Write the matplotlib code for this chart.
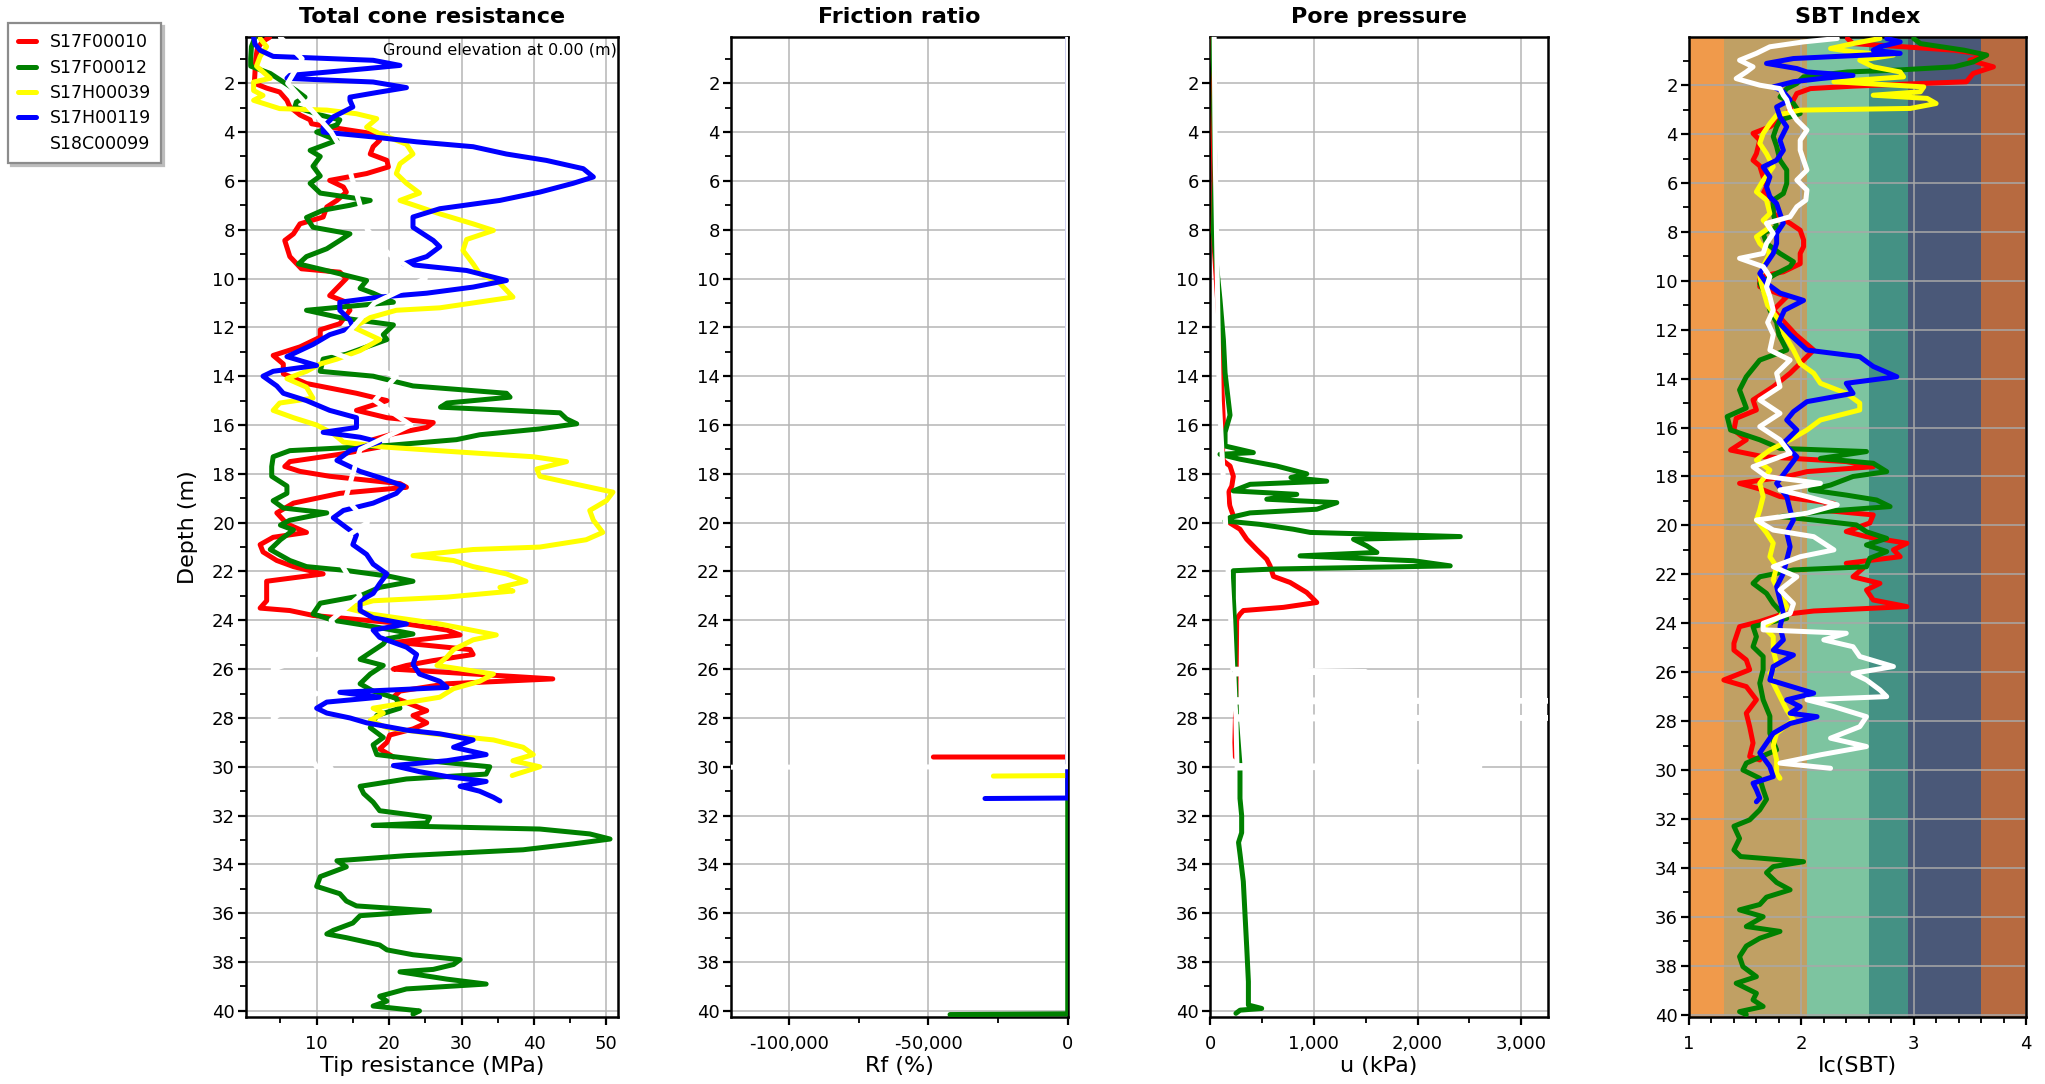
import matplotlib
matplotlib.use("Agg")
import matplotlib.pyplot as plt
from matplotlib.ticker import MultipleLocator, FuncFormatter

SOUNDINGS = ["S17F00010", "S17F00012", "S17H00039", "S17H00119", "S18C00099"]
COLORS = ["#ff0000", "#008000", "#ffff00", "#0000ff", "#ffffff"]

# ---- Total cone resistance, (depth m, qt MPa)
QT_S17F00010 = [(0.12, 3.5), (0.3, 2.5), (0.6, 1.8), (1.0, 1.6), (1.5, 1.5), (2.0, 1.4), (2.2, 3.1),
                (2.36, 4.9), (2.7, 5.9), (2.97, 6.3), (3.3, 7.7), (3.5, 9.1), (3.66, 9.3), (3.86, 13.2),
                (4.07, 17.8), (4.34, 18.7), (4.6, 17.8), (4.9, 17.4), (5.16, 19.7), (5.43, 19.9),
                (5.7, 16.9), (5.98, 11.8), (6.25, 13.7), (6.46, 14.1), (6.8, 12.8), (7.07, 11.4),
                (7.48, 10.9), (7.76, 7.7), (8.17, 6.8), (8.44, 5.6), (9.1, 6.3), (9.6, 7.9), (9.74, 13.2),
                (10.0, 14.1), (10.7, 11.8), (10.97, 14.1), (11.3, 14.6), (11.85, 13.2), (12.1, 10.5),
                (12.4, 10.5), (12.8, 7.7), (13.15, 4.0), (13.5, 5.4), (13.9, 5.4), (14.3, 8.6),
                (14.7, 15.5), (15.0, 19.7), (15.4, 15.5), (15.7, 19.7), (15.9, 26.1), (16.1, 25.2),
                (16.36, 20.6), (16.6, 17.8), (16.9, 18.7), (17.2, 13.2), (17.5, 6.3), (17.7, 5.6),
                (17.9, 7.7), (18.1, 11.8), (18.4, 21.5), (18.55, 22.4), (18.8, 13.2), (19.2, 6.8),
                (19.6, 4.5), (20.05, 5.9), (20.4, 8.6), (20.6, 4.0), (20.9, 2.2), (21.2, 2.6),
                (21.55, 4.5), (21.8, 6.8), (22.1, 10.9), (22.4, 3.1), (22.8, 3.1), (23.2, 3.1),
                (23.5, 2.2), (23.6, 6.3), (23.8, 9.5), (23.94, 14.6), (24.15, 22.4), (24.4, 28.0),
                (24.6, 29.8), (24.9, 21.0), (25.2, 31.2), (25.4, 31.6), (25.65, 26.1), (25.85, 22.4),
                (26.0, 20.6), (26.2, 31.6), (26.4, 42.6), (26.6, 28.0), (26.9, 21.5), (27.15, 20.6),
                (27.7, 25.2), (27.9, 23.3), (28.2, 25.2), (28.45, 23.3), (28.7, 20.1), (29.0, 19.7),
                (29.27, 18.7), (29.6, 20.6)]
QT_S17F00012 = [(0.12, 1.5), (0.5, 1.0), (1.0, 0.9), (1.3, 0.9), (1.6, 3.6), (1.95, 5.4), (2.3, 7.2),
                (2.57, 8.4), (2.77, 7.2), (2.97, 7.0), (3.3, 10.5), (3.5, 13.2), (3.7, 12.8), (4.0, 10.0),
                (4.34, 12.8), (4.75, 9.1), (5.0, 10.5), (5.4, 9.5), (5.8, 10.5), (6.1, 9.1), (6.5, 10.5),
                (6.8, 17.4), (7.0, 14.6), (7.2, 10.9), (7.5, 8.6), (7.9, 9.5), (8.17, 14.6), (8.44, 13.2),
                (8.78, 11.4), (9.1, 8.6), (9.4, 7.5), (9.74, 12.3), (10.08, 16.9), (10.4, 16.0),
                (10.6, 17.8), (10.97, 20.6), (11.3, 8.6), (11.6, 13.2), (11.9, 20.6), (12.3, 19.2),
                (12.5, 19.7), (13.1, 14.1), (13.3, 10.9), (13.8, 10.5), (14.0, 17.8), (14.4, 23.3),
                (14.7, 36.2), (14.86, 36.7), (15.1, 28.0), (15.27, 27.1), (15.5, 43.6), (15.75, 44.5),
                (15.95, 45.9), (16.16, 40.8), (16.4, 32.5), (16.6, 29.3), (16.84, 19.7), (17.05, 6.3),
                (17.3, 4.0), (17.7, 3.8), (18.1, 3.8), (18.5, 5.9), (18.8, 5.9), (19.1, 4.0), (19.4, 5.4),
                (19.6, 11.4), (19.9, 6.3), (20.1, 5.0), (20.3, 6.8), (20.7, 5.0), (21.1, 3.6),
                (21.55, 6.3), (21.8, 8.6), (21.96, 14.1), (22.2, 20.1), (22.4, 23.3), (22.65, 18.7),
                (23.0, 16.0), (23.3, 10.5), (23.74, 9.5), (24.0, 12.3), (24.3, 18.7), (24.56, 23.3),
                (24.76, 19.7), (24.97, 19.2), (25.6, 16.0), (25.85, 19.2), (26.2, 17.4), (26.6, 16.0),
                (26.9, 17.8), (27.2, 21.0), (27.6, 21.5), (27.9, 18.3), (28.4, 17.4), (28.8, 19.2),
                (29.1, 17.8), (29.5, 18.3), (29.75, 25.2), (30.0, 33.9), (30.3, 33.4), (30.5, 22.4),
                (30.8, 16.0), (31.1, 16.5), (31.45, 17.8), (31.8, 18.7), (32.07, 25.6), (32.3, 25.2),
                (32.4, 17.8), (32.55, 40.8), (32.75, 47.7), (32.96, 50.5), (33.16, 45.4), (33.4, 38.5),
                (33.64, 22.4), (33.85, 12.8), (34.1, 14.1), (34.5, 10.5), (34.9, 10.0), (35.2, 13.2),
                (35.5, 14.1), (35.7, 15.5), (35.9, 25.6), (36.1, 16.0), (36.4, 15.0), (36.7, 12.3),
                (36.85, 11.4), (37.0, 14.1), (37.3, 18.7), (37.5, 19.7), (37.7, 23.3), (37.9, 29.8),
                (38.1, 28.9), (38.3, 26.1), (38.4, 21.5), (38.7, 28.0), (38.9, 33.4), (39.1, 22.4),
                (39.4, 18.7), (39.6, 19.7), (39.8, 17.8), (40.0, 24.2), (40.13, 23.3)]
QT_S17H00039 = [(0.17, 2.2), (0.5, 3.1), (0.9, 2.2), (1.3, 1.7), (1.8, 3.6), (1.95, 1.3), (2.3, 1.3),
                (2.5, 2.6), (2.7, 1.3), (3.04, 4.9), (3.1, 11.4), (3.25, 15.5), (3.45, 18.3), (3.8, 16.9),
                (4.07, 18.7), (4.5, 22.4), (4.9, 23.3), (5.3, 21.5), (5.7, 21.0), (6.1, 22.4), (6.5, 24.2),
                (6.8, 21.5), (7.35, 27.0), (7.76, 31.6), (8.03, 34.4), (8.4, 30.7), (8.85, 30.2),
                (9.4, 31.6), (9.8, 32.5), (10.2, 35.3), (10.76, 37.1), (11.2, 27.0), (11.3, 21.0),
                (11.6, 17.4), (12.0, 15.1), (12.5, 18.7), (12.95, 16.0), (13.3, 12.8), (13.5, 10.5),
                (13.8, 8.6), (14.1, 5.9), (14.45, 8.6), (14.9, 9.5), (15.1, 4.9), (15.4, 4.0), (15.7, 6.8),
                (16.0, 10.0), (16.36, 12.3), (16.7, 13.7), (16.9, 19.2), (17.1, 29.3), (17.3, 39.9),
                (17.5, 44.5), (17.8, 40.4), (18.1, 40.8), (18.4, 45.4), (18.75, 50.9), (19.1, 50.0),
                (19.5, 47.7), (19.9, 48.2), (20.4, 49.5), (20.7, 47.2), (21.0, 40.8), (21.1, 31.6),
                (21.35, 23.3), (21.55, 28.9), (21.8, 31.6), (22.1, 36.2), (22.4, 38.9), (22.65, 35.3),
                (22.8, 37.1), (23.05, 28.0), (23.2, 17.8), (23.5, 14.1), (23.74, 17.4), (24.15, 27.0),
                (24.6, 34.8), (24.8, 31.6), (25.2, 28.9), (25.5, 28.0), (25.85, 26.6), (26.2, 34.4),
                (26.5, 32.5), (26.8, 28.9), (27.15, 27.0), (27.6, 17.8), (27.8, 19.2), (28.1, 17.4),
                (28.4, 19.7), (28.65, 26.1), (28.9, 34.4), (29.2, 38.5), (29.5, 39.9), (29.75, 37.1),
                (30.0, 40.8), (30.3, 37.6), (30.36, 37.0)]
QT_S17H00119 = [(0.12, 1.3), (0.4, 1.5), (0.65, 2.2), (0.9, 4.0), (1.06, 17.8), (1.27, 21.5), (1.4, 16.9),
                (1.68, 6.3), (1.8, 5.9), (1.95, 17.8), (2.18, 22.4), (2.36, 18.7), (2.57, 14.6), (2.7, 14.6),
                (2.97, 15.0), (3.38, 12.3), (3.8, 10.9), (4.0, 10.9), (4.2, 17.8), (4.4, 23.8), (4.6, 31.6),
                (4.9, 36.2), (5.16, 41.7), (5.5, 46.8), (5.84, 48.2), (6.1, 45.4), (6.46, 40.8),
                (6.8, 35.3), (7.14, 27.0), (7.48, 23.3), (7.9, 23.3), (8.17, 24.7), (8.44, 26.1),
                (8.7, 27.0), (9.1, 25.2), (9.4, 22.0), (9.67, 30.7), (10.08, 36.2), (10.35, 31.6),
                (10.6, 25.2), (10.76, 18.7), (10.97, 13.2), (11.3, 13.2), (11.7, 14.6), (12.0, 15.0),
                (12.3, 11.8), (12.7, 9.5), (12.95, 7.7), (13.2, 5.9), (13.56, 10.0), (13.8, 4.0),
                (14.0, 2.6), (14.4, 4.5), (14.7, 5.4), (15.0, 8.6), (15.4, 11.8), (15.7, 15.5),
                (16.1, 15.5), (16.3, 10.9), (16.5, 16.0), (16.7, 18.7), (17.05, 14.6), (17.45, 12.8),
                (17.9, 16.0), (18.2, 19.2), (18.5, 22.0), (18.8, 21.0), (19.2, 17.8), (19.5, 13.7),
                (19.8, 12.3), (20.2, 14.1), (20.5, 15.5), (20.9, 15.0), (21.3, 16.9), (21.7, 17.8),
                (22.1, 19.7), (22.5, 18.7), (22.9, 17.8), (23.2, 16.0), (23.6, 16.0), (23.9, 17.8),
                (24.15, 22.4), (24.4, 17.8), (24.7, 18.7), (25.1, 22.4), (25.4, 23.8), (25.8, 23.3),
                (26.2, 24.2), (26.5, 27.0), (26.75, 28.0), (26.95, 13.2), (27.15, 18.7), (27.35, 11.4),
                (27.6, 10.0), (27.8, 11.4), (28.0, 14.6), (28.2, 16.9), (28.5, 22.4), (28.65, 27.0),
                (28.9, 31.6), (29.2, 28.9), (29.5, 33.4), (29.75, 28.0), (29.95, 20.6), (30.2, 24.2),
                (30.4, 28.0), (30.6, 33.4), (30.8, 29.8), (31.0, 32.5), (31.25, 34.4), (31.4, 35.3)]
QT_S18C00099 = [(0.12, 5.0), (1.0, 8.0), (2.0, 6.0), (3.0, 9.0), (4.0, 12.0), (5.0, 14.0), (6.0, 15.0),
                (8.0, 17.0), (9.0, 20.0), (10.0, 25.0), (11.0, 18.0), (12.0, 15.0), (13.0, 12.0),
                (14.0, 21.0), (15.0, 18.0), (16.0, 23.0), (17.0, 16.0), (18.0, 15.0), (19.0, 14.0),
                (20.0, 17.0), (21.0, 12.0), (22.0, 14.0), (23.0, 16.0), (24.0, 12.0), (25.0, 14.0),
                (26.0, 4.0), (27.0, 10.0), (28.0, 4.0), (29.0, 8.0), (30.0, 10.0), (30.05, 12.0)]

# ---- Friction ratio, (depth m, Rf %)
RF_S17F00010 = [(0.12, 2.0), (29.6, 2.5), (29.6, -48240)]
RF_S17F00012 = [(0.12, 2.0), (40.12, 2.0), (40.15, -42250)]
RF_S17H00039 = [(0.17, 2.0), (30.36, 2.0), (30.38, -26700)]
RF_S17H00119 = [(0.12, 2.0), (31.28, 2.0), (31.3, -29700)]
RF_S18C00099 = [(0.12, 2.0), (30.0, 2.0), (30.02, -140000)]

# ---- Pore pressure, (depth m, u kPa)
U_S17F00010 = [(0.12, 30), (2.0, 35), (4.0, 30), (6.0, 40), (8.0, 30), (10.0, 60), (12.0, 90),
               (14.0, 110), (16.0, 130), (17.2, 120), (17.47, 129), (17.68, 193), (18.1, 225),
               (18.5, 210), (18.77, 177), (19.3, 190), (19.72, 225), (19.93, 161), (20.27, 289),
               (20.68, 354), (21.1, 450), (21.5, 547), (21.77, 579), (22.2, 611), (22.45, 772),
               (22.86, 932), (23.27, 1029), (23.47, 707), (23.6, 322), (23.74, 290), (23.95, 257),
               (25.0, 255), (26.9, 250), (28.0, 245), (29.0, 240), (29.6, 245)]
U_S17F00012 = [(0.12, 32), (1.0, 30), (2.0, 40), (3.0, 35), (4.0, 40), (5.0, 45), (6.0, 48), (6.77, 40),
               (8.1, 32), (9.5, 64), (10.86, 96), (12.5, 129), (13.86, 145), (15.6, 193), (16.3, 145),
               (16.86, 145), (17.13, 418), (17.2, 96), (17.4, 289), (17.68, 643), (18.0, 932),
               (18.15, 780), (18.3, 1125), (18.43, 386), (18.7, 225), (18.84, 836), (19.04, 547),
               (19.18, 1222), (19.45, 1029), (19.6, 386), (19.79, 193), (19.93, 145), (20.07, 482),
               (20.27, 804), (20.4, 965), (20.57, 2412), (20.68, 1383), (20.95, 1511), (21.22, 1608),
               (21.36, 868), (21.56, 1961), (21.77, 2315), (21.9, 611), (21.97, 225), (23.1, 225),
               (24.5, 241), (25.85, 241), (27.2, 250), (28.17, 257), (29.95, 289), (31.3, 289),
               (32.0, 305), (32.7, 305), (33.1, 275), (33.6, 290), (34.7, 321), (36.1, 338),
               (37.4, 354), (38.8, 370), (39.76, 370), (39.9, 498), (39.97, 290), (40.1, 250)]
U_S18C00099 = [(0.12, 40), (5.0, 50), (10.0, 70), (15.0, 90), (20.0, 150), (24.0, 200), (26.0, 220),
               (26.1, 1500), (26.2, 230), (27.25, 240), (27.3, 3500), (27.35, 240), (27.95, 250),
               (28.0, 3300), (28.05, 250), (29.95, 260), (30.0, 2600), (30.05, 260)]

# ---- SBT index, (depth m, Ic)
IC_S17F00010 = [(0.09, 2.41), (0.3, 2.46), (0.43, 2.91), (0.57, 3.36), (0.77, 3.65), (0.98, 3.5),
                (1.25, 3.71), (1.52, 3.53), (1.86, 3.47), (2.04, 2.46), (2.14, 2.08), (2.34, 1.96),
                (2.6, 1.93), (3.0, 1.9), (3.3, 1.84), (3.7, 1.72), (3.97, 1.57), (4.25, 1.63), (4.8, 1.6),
                (5.07, 1.57), (5.3, 1.63), (5.75, 1.66), (6.15, 1.69), (6.43, 1.66), (6.7, 1.75),
                (7.25, 1.75), (7.65, 1.9), (7.93, 1.99), (8.33, 2.02), (8.6, 2.02), (8.88, 1.99),
                (9.3, 1.99), (9.63, 1.84), (9.83, 1.63), (10.24, 1.63), (10.65, 1.87), (11.2, 1.75),
                (11.7, 1.85), (12.2, 1.95), (12.83, 2.11), (13.24, 2.02), (13.78, 1.9), (14.33, 1.75),
                (14.87, 1.57), (15.28, 1.6), (15.62, 1.42), (16.1, 1.4), (16.5, 1.51), (16.92, 1.37),
                (17.19, 1.66), (17.39, 2.4), (17.6, 2.64), (17.8, 2.05), (18.0, 1.87), (18.28, 1.45),
                (18.55, 1.66), (18.82, 1.81), (19.1, 2.29), (19.37, 2.17), (19.57, 2.64), (19.9, 2.61),
                (20.25, 2.4), (20.46, 2.58), (20.73, 2.94), (21.0, 2.82), (21.28, 2.88), (21.55, 2.4),
                (21.75, 2.55), (22.1, 2.46), (22.37, 2.7), (22.64, 2.58), (23.05, 2.64), (23.32, 2.94),
                (23.5, 2.11), (23.66, 1.81), (23.93, 1.63), (24.14, 1.45), (24.41, 1.43), (24.82, 1.4),
                (25.1, 1.4), (25.5, 1.51), (25.9, 1.54), (26.32, 1.31), (26.59, 1.51), (27.13, 1.6),
                (27.68, 1.51), (28.23, 1.54), (28.9, 1.57), (29.45, 1.54), (29.59, 1.63)]
IC_S17F00012 = [(0.09, 3.0), (0.3, 3.06), (0.57, 3.45), (0.77, 3.65), (1.05, 3.53), (1.25, 3.36),
                (1.39, 2.82), (1.46, 2.41), (1.66, 2.02), (1.93, 1.96), (2.14, 1.87), (2.48, 1.81),
                (2.75, 1.93), (3.16, 1.99), (3.43, 1.81), (3.7, 1.78), (4.1, 1.75), (4.5, 1.78),
                (5.07, 1.81), (5.47, 1.87), (6.02, 1.87), (6.43, 1.84), (6.7, 1.75), (7.25, 1.75),
                (7.8, 1.78), (8.06, 1.66), (8.47, 1.69), (8.88, 1.81), (9.22, 1.93), (9.42, 1.9),
                (9.7, 1.78), (10.1, 1.63), (10.38, 1.66), (10.65, 1.69), (11.2, 1.72), (11.7, 1.78),
                (12.2, 1.8), (12.83, 1.87), (13.24, 1.63), (13.92, 1.51), (14.46, 1.45), (15.2, 1.51),
                (15.55, 1.34), (16.1, 1.37), (16.5, 1.63), (16.85, 1.81), (16.98, 2.58), (17.26, 2.17),
                (17.46, 2.64), (17.8, 2.76), (18.0, 2.46), (18.35, 2.26), (18.55, 2.08), (18.76, 2.4),
                (18.96, 2.67), (19.23, 2.79), (19.44, 2.17), (19.64, 1.81), (19.78, 2.11), (19.98, 2.49),
                (20.26, 2.58), (20.53, 2.76), (20.8, 2.58), (21.07, 2.76), (21.34, 2.61), (21.69, 2.58),
                (21.82, 1.93), (22.1, 1.63), (22.37, 1.57), (22.78, 1.69), (23.2, 1.75), (23.5, 1.81),
                (23.8, 1.87), (24.14, 1.57), (24.55, 1.6), (24.96, 1.57), (25.36, 1.66), (25.9, 1.66),
                (26.45, 1.63), (27.13, 1.66), (27.8, 1.72), (28.5, 1.72), (29.18, 1.78), (29.72, 1.51),
                (30.0, 1.48), (30.34, 1.63), (30.8, 1.66), (31.2, 1.69), (31.63, 1.63), (32.04, 1.54),
                (32.3, 1.4), (32.8, 1.45), (33.27, 1.4), (33.54, 1.46), (33.75, 2.02), (33.95, 1.75),
                (34.2, 1.69), (34.6, 1.78), (34.9, 1.9), (35.2, 1.69), (35.5, 1.63), (35.72, 1.45),
                (36.0, 1.66), (36.4, 1.51), (36.6, 1.81), (36.88, 1.63), (37.2, 1.51), (37.63, 1.45),
                (38.04, 1.48), (38.45, 1.6), (38.72, 1.42), (39.13, 1.6), (39.4, 1.57), (39.67, 1.66),
                (39.88, 1.45), (40.0, 1.51)]
IC_S17H00039 = [(0.09, 2.7), (0.3, 2.46), (0.5, 2.26), (0.64, 2.46), (0.77, 2.82), (0.98, 2.52),
                (1.25, 2.64), (1.46, 2.88), (1.66, 2.91), (1.86, 2.29), (2.07, 3.09), (2.27, 3.06),
                (2.41, 2.64), (2.54, 3.12), (2.75, 3.2), (2.95, 2.97), (3.02, 1.99), (3.23, 1.78),
                (3.57, 1.72), (3.98, 1.66), (4.38, 1.63), (4.8, 1.69), (5.33, 1.75), (5.9, 1.66),
                (6.36, 1.6), (6.7, 1.69), (7.25, 1.72), (7.52, 1.66), (7.8, 1.72), (8.2, 1.6), (8.47, 1.63),
                (8.88, 1.72), (9.42, 1.66), (9.83, 1.63), (10.38, 1.66), (11.0, 1.7), (11.6, 1.8),
                (12.2, 1.85), (12.83, 1.93), (13.38, 1.99), (13.78, 2.11), (14.19, 2.17), (14.6, 2.4),
                (15.0, 2.52), (15.28, 2.52), (15.69, 2.17), (16.1, 2.05), (16.5, 1.9), (16.92, 1.72),
                (17.33, 1.6), (17.74, 1.72), (18.28, 1.63), (18.82, 1.66), (19.37, 1.63), (19.78, 1.6),
                (20.3, 1.69), (20.73, 1.75), (21.28, 1.72), (21.69, 1.78), (22.23, 1.75), (22.78, 1.81),
                (23.32, 1.87), (23.73, 1.81), (24.14, 1.66), (24.55, 1.75), (25.1, 1.75), (25.64, 1.78),
                (26.05, 1.72), (26.45, 1.75), (27.0, 1.81), (27.55, 1.87), (27.95, 1.93), (28.5, 1.78),
                (29.0, 1.75), (29.59, 1.78), (30.13, 1.78), (30.34, 1.81)]
IC_S17H00119 = [(0.09, 2.76), (0.23, 2.88), (0.43, 2.7), (0.57, 2.64), (0.7, 2.88), (0.91, 1.93),
                (1.11, 1.69), (1.32, 1.96), (1.46, 2.05), (1.6, 2.46), (1.73, 2.17), (1.86, 1.93),
                (2.07, 1.75), (2.27, 1.84), (2.6, 1.9), (2.89, 1.78), (3.3, 1.81), (3.7, 1.87),
                (4.25, 1.81), (4.66, 1.84), (5.07, 1.78), (5.34, 1.66), (5.75, 1.72), (6.15, 1.69),
                (6.56, 1.72), (6.84, 1.78), (7.25, 1.81), (7.65, 1.84), (8.06, 1.78), (8.47, 1.78),
                (8.88, 1.75), (9.29, 1.69), (9.7, 1.63), (10.1, 1.69), (10.5, 1.81), (10.8, 2.02),
                (11.2, 1.85), (11.7, 1.8), (12.2, 1.9), (12.83, 2.05), (13.1, 2.52), (13.5, 2.64),
                (13.92, 2.85), (14.19, 2.4), (14.6, 2.46), (14.94, 2.05), (15.35, 1.93), (15.69, 1.87),
                (16.1, 1.96), (16.64, 1.84), (17.19, 1.96), (17.74, 1.87), (18.28, 1.78), (18.82, 1.87),
                (19.37, 1.9), (19.78, 1.93), (20.3, 1.87), (20.87, 1.9), (21.41, 1.87), (21.96, 1.84),
                (22.5, 1.78), (23.05, 1.81), (23.6, 1.84), (24.14, 1.81), (24.68, 1.84), (25.1, 1.75),
                (25.3, 1.93), (25.77, 1.75), (26.32, 1.72), (26.86, 2.11), (27.13, 1.87), (27.41, 1.99),
                (27.68, 1.9), (27.82, 2.14), (28.1, 1.9), (28.5, 1.75), (28.9, 1.69), (29.3, 1.63),
                (29.86, 1.72), (30.27, 1.75), (30.54, 1.57), (30.81, 1.6), (31.15, 1.63), (31.3, 1.6)]
IC_S18C00099 = [(0.09, 2.32), (0.23, 2.02), (0.43, 1.72), (0.7, 1.6), (0.98, 1.45), (1.25, 1.57),
                (1.46, 1.51), (1.73, 1.42), (2.0, 1.63), (2.14, 1.81), (2.41, 1.84), (2.6, 1.87),
                (3.02, 1.9), (3.43, 1.96), (3.84, 2.05), (4.25, 1.99), (4.66, 1.99), (5.07, 2.02),
                (5.47, 2.05), (5.88, 1.96), (6.29, 2.05), (6.7, 2.04), (6.97, 1.96), (7.38, 1.9),
                (7.65, 1.69), (8.06, 1.75), (8.47, 1.69), (8.88, 1.66), (9.08, 1.45), (9.42, 1.66),
                (9.83, 1.72), (10.24, 1.69), (10.65, 1.72), (11.2, 1.75), (11.7, 1.7), (12.2, 1.75),
                (12.83, 1.72), (13.24, 1.9), (13.78, 1.78), (14.33, 1.81), (14.87, 1.63), (15.42, 1.81),
                (15.96, 1.63), (16.5, 1.81), (17.05, 1.9), (17.6, 1.57), (18.0, 1.69), (18.28, 2.17),
                (18.55, 1.81), (18.82, 2.05), (19.16, 2.32), (19.5, 2.05), (19.78, 1.6), (20.19, 1.75),
                (20.46, 2.11), (21.0, 2.29), (21.28, 1.99), (21.69, 1.75), (22.1, 1.96), (22.64, 1.81),
                (23.2, 1.93), (23.6, 1.9), (24.0, 1.66), (24.27, 1.66), (24.41, 2.4), (24.68, 2.2),
                (24.96, 2.46), (25.36, 2.52), (25.77, 2.82), (26.05, 2.46), (26.32, 2.58), (26.73, 2.7),
                (27.0, 2.76), (27.13, 2.05), (27.41, 2.29), (27.82, 2.58), (28.23, 2.52), (28.7, 2.26),
                (29.04, 2.58), (29.38, 2.17), (29.72, 1.81), (29.93, 2.26)]

# SBT zone boundaries and fill colours
IC_BOUNDS = [1.0, 1.31, 2.05, 2.6, 2.95, 3.6, 4.0]
ZONE_COLORS = ["#f09a4b", "#c0a064", "#7dc4a0", "#449184", "#4a5878", "#b76a40"]

FIG_W, FIG_H = 2045, 1084


def px_axes(left, top, right, bottom):
    return [left / FIG_W, 1 - bottom / FIG_H, (right - left) / FIG_W, (bottom - top) / FIG_H]


def draw_profiles(ax, profiles):
    for name, color, prof in zip(SOUNDINGS, COLORS, profiles):
        if prof is None:
            continue
        depth, val = zip(*prof)
        ax.plot(val, depth, color=color, lw=3.6, solid_joinstyle="round",
                solid_capstyle="round", label=name, zorder=3)


def style(ax, title, xlabel, ylim):
    ax.set_ylim(*ylim)
    ax.yaxis.set_major_locator(MultipleLocator(2))
    ax.yaxis.set_minor_locator(MultipleLocator(1))
    ax.grid(True, which="major", color="#b5b5b5", lw=1.1)
    ax.set_axisbelow(True)
    for s in ax.spines.values():
        s.set_linewidth(1.8)
        s.set_color("black")
    ax.tick_params(which="major", direction="out", length=6, width=1.6, labelsize=13)
    ax.tick_params(which="minor", direction="out", length=4, width=1.3)
    ax.tick_params(axis="x", which="major", pad=7)
    ax.tick_params(axis="y", which="major", pad=2)
    ax.set_xlabel(xlabel, fontsize=16)
    ax.xaxis.set_label_coords(0.5, -0.040)
    ax.text(0.5, 1.020, title, transform=ax.transAxes, ha="center", va="center",
            fontsize=16, fontweight="bold")


comma = FuncFormatter(lambda v, p: f"{v:,.0f}")
main_ylim = (40.25, 0.106)

fig = plt.figure(figsize=(FIG_W / 100, FIG_H / 100), dpi=100)

# total cone resistance
ax1 = fig.add_axes(px_axes(246, 37, 618, 1017))
draw_profiles(ax1, [QT_S17F00010, QT_S17F00012, QT_S17H00039, QT_S17H00119, QT_S18C00099])
ax1.set_xlim(0.25, 51.6)
ax1.xaxis.set_major_locator(MultipleLocator(10))
ax1.xaxis.set_minor_locator(MultipleLocator(5))
style(ax1, "Total cone resistance", "Tip resistance (MPa)", main_ylim)
ax1.set_ylabel("Depth (m)", fontsize=16)
ax1.yaxis.set_label_coords(-0.129, 0.5)
ax1.text(0.997, 0.987, "Ground elevation at 0.00 (m)", transform=ax1.transAxes,
         ha="right", va="center", fontsize=11.5)

# friction ratio
ax2 = fig.add_axes(px_axes(731, 37, 1068, 1017))
draw_profiles(ax2, [RF_S17F00010, RF_S17F00012, RF_S17H00039, RF_S17H00119, RF_S18C00099])
ax2.set_xlim(-120900, 100)
ax2.xaxis.set_major_locator(MultipleLocator(50000))
ax2.xaxis.set_minor_locator(MultipleLocator(25000))
ax2.xaxis.set_major_formatter(comma)
style(ax2, "Friction ratio", "Rf (%)", main_ylim)

# pore pressure
ax3 = fig.add_axes(px_axes(1210, 37, 1548, 1017))
draw_profiles(ax3, [U_S17F00010, U_S17F00012, None, None, U_S18C00099])
ax3.set_xlim(0, 3257)
ax3.xaxis.set_major_locator(MultipleLocator(1000))
ax3.xaxis.set_minor_locator(MultipleLocator(500))
ax3.xaxis.set_major_formatter(comma)
style(ax3, "Pore pressure", "u (kPa)", main_ylim)

# SBT index
ax4 = fig.add_axes(px_axes(1689, 37, 2026, 1017))
for lo, hi, c in zip(IC_BOUNDS[:-1], IC_BOUNDS[1:], ZONE_COLORS):
    ax4.axvspan(lo, hi, color=c, lw=0, zorder=0)
draw_profiles(ax4, [IC_S17F00010, IC_S17F00012, IC_S17H00039, IC_S17H00119, IC_S18C00099])
ax4.set_xlim(1, 4)
ax4.xaxis.set_major_locator(MultipleLocator(1))
ax4.xaxis.set_minor_locator(MultipleLocator(0.2))
style(ax4, "SBT Index", "Ic(SBT)", (40.1, 0.03))
ax4.grid(True, which="major", color="#a8a8a8", lw=1.1, zorder=0.5)

handles, labels = ax1.get_legend_handles_labels()
leg = fig.legend(handles, labels, loc="upper left", bbox_to_anchor=(8 / FIG_W, 1 - 23 / FIG_H),
                 borderaxespad=0, fontsize=12.5, handlelength=1.0, handletextpad=0.8,
                 labelspacing=0.42, borderpad=0.6, fancybox=False,
                 shadow={"color": "#bdbdbd", "alpha": 1.0})
leg.get_frame().set_edgecolor("#8c8c8c")
leg.get_frame().set_linewidth(1.6)

fig.savefig("out.png", dpi=100)
